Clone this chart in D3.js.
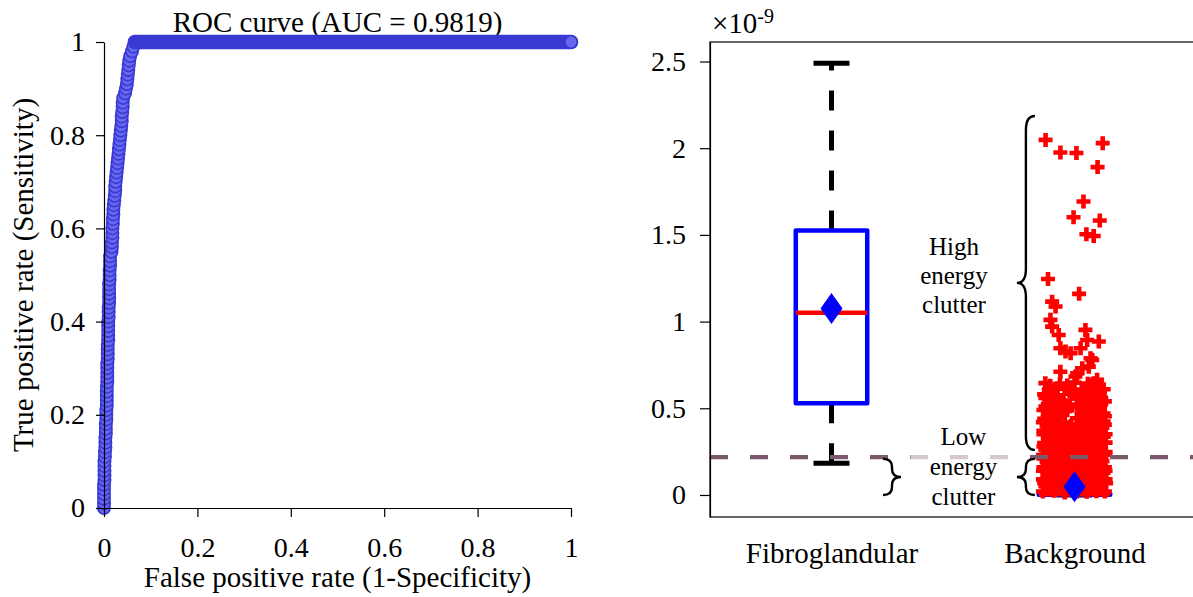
<!DOCTYPE html>
<html>
<head>
<meta charset="utf-8">
<title>ROC curve and clutter energy</title>
<script src="https://d3js.org/d3.v7.min.js"></script>
<style>
    body {
        margin: 0;
        background: #fff;
    }

    svg {
        display: block;
        font-family: "Liberation Serif", "Times New Roman", serif;
    }

    .axis text {
        font-family: "Liberation Serif", "Times New Roman", serif;
        font-size: 28px;
        fill: #000;
    }

    .axis path,
    .axis line {
        stroke: #000;
        stroke-width: 1.2;
    }
</style>
</head>
<body>
<div id="chart"></div>
<script>
    // ROC curve
    const rocTpr = [0, 0.01, 0.02, 0.03, 0.04, 0.05, 0.06, 0.07, 0.08, 0.09,
        0.10, 0.11, 0.12, 0.13, 0.14, 0.15, 0.16, 0.17, 0.18, 0.19,
        0.20, 0.21, 0.22, 0.23, 0.24, 0.25, 0.26, 0.27, 0.28, 0.29,
        0.30, 0.31, 0.32, 0.33, 0.34, 0.35, 0.36, 0.37, 0.38, 0.39,
        0.40, 0.41, 0.42, 0.43, 0.44, 0.45, 0.46, 0.47, 0.48, 0.49,
        0.50, 0.51, 0.52, 0.53, 0.54, 0.55, 0.56, 0.57, 0.58, 0.59,
        0.60, 0.61, 0.62, 0.63, 0.64, 0.65, 0.66, 0.67, 0.68, 0.69,
        0.70, 0.71, 0.72, 0.73, 0.74, 0.75, 0.76, 0.77, 0.78, 0.79,
        0.80, 0.81, 0.82, 0.83, 0.84, 0.85, 0.86, 0.87, 0.88, 0.89,
        0.90, 0.91, 0.92, 0.93, 0.94, 0.95, 0.96, 0.97, 0.98, 0.99,
        1, 1];
    const rocFpr = [0, 0, 0, 0, 0, 0,
        0.001, 0.001, 0.001, 0.001, 0.001,
        0.002, 0.002, 0.003, 0.003, 0.003,
        0.004, 0.004, 0.004, 0.005, 0.005,
        0.005, 0.006, 0.006, 0.006, 0.006,
        0.006, 0.007, 0.007, 0.007, 0.007,
        0.007, 0.008, 0.008, 0.008, 0.008,
        0.009, 0.009, 0.009, 0.009, 0.009,
        0.010, 0.010, 0.010, 0.011, 0.011,
        0.011, 0.011, 0.011, 0.012, 0.012,
        0.012, 0.013, 0.013, 0.013, 0.016,
        0.017, 0.017, 0.018, 0.018, 0.018,
        0.019, 0.019, 0.020, 0.020, 0.021,
        0.022, 0.023, 0.024, 0.024, 0.025,
        0.026, 0.027, 0.028, 0.029, 0.030,
        0.031, 0.032, 0.033, 0.034, 0.035,
        0.036, 0.037, 0.038, 0.038, 0.039,
        0.040, 0.040, 0.041, 0.045, 0.047,
        0.049, 0.050, 0.051, 0.052, 0.053,
        0.054, 0.056, 0.060, 0.063, 0.066,
        1];
    const rocTicks = [0, 0.2, 0.4, 0.6, 0.8, 1];
    const rocTitle = "ROC curve (AUC = 0.9819)";

    // box plot of energy (x 1e-9)
    const groups = ["Fibroglandular", "Background"];
    const boxLow = [0.183, 0.0];
    const boxQ1 = [0.529, 0.002];
    const boxMedian = [1.051, 0.004];
    const boxQ3 = [1.525, 0.009];
    const boxHigh = [2.49, 0.016];
    const boxMean = [1.075, 0.048];
    const energyTicks = [0, 0.5, 1, 1.5, 2, 2.5];
    const clutterThreshold = 0.218;

    // background outliers: [jitter from category centre, energy]
    const bgOutliers = [
        [-0.13, 0.02], [-0.085, 0.025], [-0.04, 0.015], [0.01, 0.02], [0.05, 0.018], [0.09, 0.022], [0.125, 0.02],
        [-0.108, 0.035], [-0.062, 0.038], [-0.018, 0.032], [0.028, 0.036], [0.072, 0.034], [0.11, 0.037],
        [-0.12, 0.05], [-0.07, 0.055], [-0.02, 0.05], [0.03, 0.052], [0.07, 0.048], [0.11, 0.055],
        [-0.125, 0.07], [-0.1, 0.072], [-0.045, 0.068], [0.015, 0.071], [0.055, 0.069], [0.1, 0.073], [0.13, 0.068],
        [-0.13, 0.09], [-0.09, 0.085], [-0.05, 0.092], [0.0, 0.088], [0.04, 0.09], [0.085, 0.086], [0.128, 0.09],
        [-0.108, 0.105], [-0.07, 0.108], [-0.025, 0.102], [0.025, 0.106], [0.07, 0.104], [0.112, 0.108],
        [-0.11, 0.12], [-0.06, 0.125], [-0.015, 0.118], [0.06, 0.122], [0.1, 0.12], [0.12, 0.128],
        [-0.13, 0.14], [-0.09, 0.138], [-0.045, 0.142], [0.005, 0.14], [0.04, 0.137], [0.08, 0.143], [0.128, 0.14],
        [-0.128, 0.16], [-0.08, 0.155], [-0.035, 0.162], [0.02, 0.158], [0.05, 0.165], [0.09, 0.155], [0.125, 0.16],
        [-0.1, 0.175], [-0.055, 0.178], [-0.015, 0.172], [0.03, 0.176], [0.07, 0.174], [0.105, 0.178],
        [-0.115, 0.19], [-0.06, 0.195], [-0.01, 0.188], [0.035, 0.192], [0.075, 0.19], [0.115, 0.195],
        [-0.128, 0.21], [-0.085, 0.212], [-0.03, 0.208], [0.02, 0.211], [0.065, 0.209], [0.11, 0.213],
        [-0.13, 0.23], [-0.09, 0.225], [-0.04, 0.232], [0.005, 0.228], [0.05, 0.23], [0.095, 0.226], [0.127, 0.232],
        [-0.105, 0.245], [-0.055, 0.248], [-0.01, 0.242], [0.045, 0.246], [0.085, 0.244], [0.128, 0.248],
        [-0.12, 0.26], [-0.07, 0.265], [-0.02, 0.258], [0.03, 0.262], [0.07, 0.26], [0.11, 0.266],
        [-0.128, 0.28], [-0.095, 0.282], [-0.045, 0.278], [0.015, 0.281], [0.06, 0.279], [0.1, 0.283],
        [-0.125, 0.3], [-0.085, 0.295], [-0.045, 0.302], [0.01, 0.298], [0.055, 0.3], [0.1, 0.296], [0.128, 0.302],
        [-0.1, 0.315], [-0.065, 0.318], [-0.02, 0.312], [0.03, 0.316], [0.07, 0.314], [0.11, 0.318],
        [-0.11, 0.33], [-0.06, 0.335], [0.0, 0.328], [0.04, 0.332], [0.085, 0.33], [0.12, 0.336],
        [-0.128, 0.35], [-0.08, 0.352], [-0.025, 0.348], [0.025, 0.351], [0.065, 0.349], [0.1, 0.353], [0.128, 0.35],
        [-0.128, 0.37], [-0.09, 0.365], [-0.035, 0.372], [0.02, 0.368], [0.065, 0.37], [0.105, 0.366],
        [-0.105, 0.385], [-0.05, 0.388], [0.0, 0.382], [0.045, 0.386], [0.08, 0.384], [0.115, 0.388],
        [-0.115, 0.4], [-0.07, 0.405], [-0.015, 0.398], [0.045, 0.402], [0.09, 0.4], [0.125, 0.406],
        [-0.13, 0.42], [-0.09, 0.422], [-0.04, 0.418], [0.03, 0.421], [0.075, 0.419], [0.12, 0.423],
        [-0.125, 0.44], [-0.08, 0.435], [0.01, 0.442], [0.06, 0.438], [0.1, 0.44],
        [-0.1, 0.455], [-0.06, 0.458], [0.04, 0.452], [0.085, 0.456], [0.125, 0.454],
        [-0.11, 0.47], [-0.05, 0.475], [0.03, 0.468], [0.08, 0.472], [0.12, 0.47],
        [-0.128, 0.49], [-0.075, 0.492], [-0.03, 0.488], [0.05, 0.491], [0.095, 0.489],
        [-0.12, 0.51], [-0.085, 0.505], [-0.02, 0.512], [0.02, 0.508], [0.07, 0.51], [0.105, 0.506],
        [-0.11, 0.525], [-0.06, 0.528], [0.01, 0.522], [0.065, 0.526], [0.11, 0.524],
        [-0.1, 0.54], [-0.045, 0.545], [0.04, 0.538], [0.09, 0.542], [0.125, 0.54],
        [-0.12, 0.56], [-0.08, 0.562], [0.02, 0.558], [0.07, 0.561], [0.11, 0.559],
        [-0.125, 0.58], [-0.07, 0.575], [-0.01, 0.582], [0.06, 0.578], [0.1, 0.58],
        [-0.09, 0.595], [-0.02, 0.598], [0.045, 0.592], [0.105, 0.596],
        [-0.105, 0.61], [-0.04, 0.615], [0.03, 0.608], [0.085, 0.612], [0.12, 0.61],
        [-0.1, 0.63], [-0.03, 0.632], [0.07, 0.628],
        [-0.12, 0.645], [-0.06, 0.64], [0.0, 0.648], [0.055, 0.642], [0.09, 0.645],
        [-0.099, 0.577], [-0.071, 0.616], [0.079, 0.644], [0.093, 0.664], [0.004, 0.683],
        [-0.058, 0.711], [0.011, 0.702], [0.032, 0.731], [0.059, 0.74], [0.073, 0.779],
        [0.066, 0.789], [-0.016, 0.818], [-0.037, 0.827], [-0.058, 0.846], [0.025, 0.846],
        [0.1, 0.885], [0.052, 0.894], [-0.065, 0.923], [0.045, 0.952], [-0.092, 0.971],
        [-0.099, 1.01], [-0.078, 1.087], [-0.092, 1.115], [0.019, 1.16], [-0.109, 1.246],
        [0.079, 1.494], [0.049, 1.504], [0.104, 1.583], [-0.004, 1.602], [0.037, 1.693],
        [0.095, 1.891], [0.008, 1.972], [-0.058, 1.975], [0.116, 2.029], [-0.119, 2.048]
    ];

    const highLabel = ["High", "energy", "clutter"];
    const lowLabel = ["Low", "energy", "clutter"];

    const W = 1193, H = 597;

    const svg = d3.select("#chart").append("svg")
        .attr("width", W)
        .attr("height", H);
    svg.append("rect").attr("width", W).attr("height", H).attr("fill", "#fff");

    // ---------------- left panel: ROC ----------------
    const x1 = d3.scaleLinear().domain([0, 1]).range([104, 571]);
    const y1 = d3.scaleLinear().domain([0, 1]).range([508, 42]);
    const roc = rocFpr.map((f, i) => ({ fpr: f, tpr: rocTpr[i] }));

    svg.append("text")
        .attr("x", x1(0.5))
        .attr("y", 32)
        .attr("text-anchor", "middle")
        .attr("font-size", 29)
        .text(rocTitle);

    const markerFill = "#6767ef", markerEdge = "#3838d3";

    svg.append("g").selectAll("circle")
        .data(roc.filter(d => d.tpr < 1))
        .join("circle")
        .attr("cx", d => x1(d.fpr))
        .attr("cy", d => y1(d.tpr))
        .attr("r", 6.2)
        .attr("fill", markerFill)
        .attr("stroke", markerEdge)
        .attr("stroke-width", 1.6);

    // plateau at sensitivity 1: markers overlap into a solid band
    svg.append("path")
        .datum(roc.filter(d => d.tpr >= 1))
        .attr("d", d3.line().x(d => x1(d.fpr)).y(d => y1(d.tpr)))
        .attr("fill", "none")
        .attr("stroke", markerEdge)
        .attr("stroke-width", 14.5)
        .attr("stroke-linecap", "round");

    svg.append("circle")
        .datum(roc[roc.length - 1])
        .attr("cx", d => x1(d.fpr))
        .attr("cy", d => y1(d.tpr))
        .attr("r", 6.2)
        .attr("fill", markerFill)
        .attr("stroke", markerEdge)
        .attr("stroke-width", 1.6);

    const fmt = d3.format("~g");

    const gx1 = svg.append("g")
        .attr("class", "axis")
        .attr("transform", `translate(0,${y1(0)})`)
        .call(d3.axisBottom(x1).tickValues(rocTicks).tickFormat(fmt).tickSize(9).tickSizeOuter(0));
    gx1.selectAll("text").attr("dy", null).attr("y", 49);

    svg.append("g")
        .attr("class", "axis")
        .attr("transform", `translate(${x1(0)},0)`)
        .call(d3.axisLeft(y1).tickValues(rocTicks).tickFormat(fmt).tickSize(8).tickSizeOuter(0).tickPadding(11));

    svg.append("text")
        .attr("x", x1(0.5))
        .attr("y", 587)
        .attr("text-anchor", "middle")
        .attr("font-size", 29)
        .text("False positive rate (1-Specificity)");

    svg.append("text")
        .attr("transform", `translate(33,${y1(0.5)}) rotate(-90)`)
        .attr("text-anchor", "middle")
        .attr("font-size", 29)
        .text("True positive rate (Sensitivity)");

    // ---------------- right panel: box plot ----------------
    const x2 = d3.scaleLinear().domain([0.5, 2.5]).range([710, 1196]);
    const y2 = d3.scaleLinear().domain([-0.127, 2.6125]).range([517, 42]);
    const boxHalf = 0.147, capHalf = 0.074;

    const boxes = groups.map((g, i) => ({
        cat: i + 1, low: boxLow[i], q1: boxQ1[i], med: boxMedian[i],
        q3: boxQ3[i], high: boxHigh[i], mean: boxMean[i]
    }));

    const gb = svg.append("g");
    boxes.forEach(b => {
        const cx = x2(b.cat);
        // whiskers, dashed from the box outwards
        [[b.q3, b.high], [b.q1, b.low]].forEach(([from, to]) => {
            gb.append("line")
                .attr("x1", cx).attr("x2", cx)
                .attr("y1", y2(from)).attr("y2", y2(to))
                .attr("stroke", "#000")
                .attr("stroke-width", 5)
                .attr("stroke-dasharray", "20,20");
            gb.append("line")
                .attr("x1", x2(b.cat - capHalf)).attr("x2", x2(b.cat + capHalf))
                .attr("y1", y2(to)).attr("y2", y2(to))
                .attr("stroke", "#000")
                .attr("stroke-width", 5);
        });
        gb.append("rect")
            .attr("x", x2(b.cat - boxHalf))
            .attr("width", x2(b.cat + boxHalf) - x2(b.cat - boxHalf))
            .attr("y", y2(b.q3))
            .attr("height", Math.max(y2(b.q1) - y2(b.q3), 0.5))
            .attr("fill", "none")
            .attr("stroke", "#0000ff")
            .attr("stroke-width", 4.5)
            .attr("stroke-linejoin", "round");
        gb.append("line")
            .attr("x1", x2(b.cat - boxHalf)).attr("x2", x2(b.cat + boxHalf))
            .attr("y1", y2(b.med)).attr("y2", y2(b.med))
            .attr("stroke", "#ff0000")
            .attr("stroke-width", 4.3);
    });

    // background outliers
    svg.append("g").selectAll("path")
        .data(bgOutliers)
        .join("path")
        .attr("transform", d => `translate(${x2(2 + d[0])},${y2(d[1])})`)
        .attr("d", "M-7,0H7M0,-7V7")
        .attr("stroke", "#ff0000")
        .attr("stroke-width", 4.6)
        .attr("fill", "none");

    // means
    svg.append("g").selectAll("path")
        .data(boxes)
        .join("path")
        .attr("transform", d => `translate(${x2(d.cat)},${y2(d.mean)})`)
        .attr("d", "M0,-15.5L11,0L0,15.5L-11,0Z")
        .attr("fill", "#0000ff");

    // threshold between low and high energy clutter
    svg.append("line")
        .attr("x1", x2(0.5)).attr("x2", x2(2.5))
        .attr("y1", y2(clutterThreshold)).attr("y2", y2(clutterThreshold))
        .attr("stroke", "#7d596d")
        .attr("stroke-width", 4.3)
        .attr("stroke-dasharray", "18,22");

    // annotation texts
    const annot = svg.append("g").attr("font-size", 25).attr("text-anchor", "middle");

    annot.append("rect")
        .attr("x", x2(1.543) - 53)
        .attr("y", y2(0.288) - 24)
        .attr("width", 106)
        .attr("height", 92)
        .attr("fill", "#fff")
        .attr("opacity", 0.68);

    annot.append("text")
        .attr("x", x2(1.504))
        .attr("y", y2(1.384))
        .selectAll("tspan")
        .data(highLabel)
        .join("tspan")
        .attr("x", x2(1.504))
        .attr("dy", (d, i) => i === 0 ? 0 : 29)
        .text(d => d);

    annot.append("text")
        .attr("x", x2(1.543))
        .attr("y", y2(0.288))
        .selectAll("tspan")
        .data(lowLabel)
        .join("tspan")
        .attr("x", x2(1.543))
        .attr("dy", (d, i) => i === 0 ? 0 : 30)
        .text(d => d);

    // curly braces
    function brace(xEnd, xTip, yTop, yBot, r) {
        const xs = (xEnd + xTip) / 2, ym = (yTop + yBot) / 2;
        return `M${xEnd},${yTop} Q${xs},${yTop} ${xs},${yTop + r}` +
            ` L${xs},${ym - r} Q${xs},${ym} ${xTip},${ym}` +
            ` Q${xs},${ym} ${xs},${ym + r}` +
            ` L${xs},${yBot - r} Q${xs},${yBot} ${xEnd},${yBot}`;
    }
    const braces = [
        { end: 2 - 0.163, tip: 2 - 0.237, top: 2.186, bot: 0.26, r: 14 },
        { end: 2 - 0.163, tip: 2 - 0.237, top: 0.208, bot: 0.0, r: 8 },
        { end: 1 + 0.212, tip: 1 + 0.286, top: 0.208, bot: 0.0, r: 8 }
    ];
    svg.append("g").selectAll("path")
        .data(braces)
        .join("path")
        .attr("d", d => brace(x2(d.end), x2(d.tip), y2(d.top), y2(d.bot), d.r))
        .attr("fill", "none")
        .attr("stroke", "#000")
        .attr("stroke-width", 2.4);

    // frame and axes
    svg.append("rect")
        .attr("x", x2(0.5))
        .attr("y", y2(2.6125))
        .attr("width", x2(2.5) - x2(0.5))
        .attr("height", y2(-0.127) - y2(2.6125))
        .attr("fill", "none")
        .attr("stroke", "#000")
        .attr("stroke-width", 1.2);

    svg.append("g")
        .attr("class", "axis")
        .attr("transform", `translate(${x2(0.5)},0)`)
        .call(d3.axisLeft(y2).tickValues(energyTicks).tickFormat(fmt).tickSize(10).tickSizeOuter(0).tickPadding(14));

    const gx2 = svg.append("g")
        .attr("class", "axis")
        .attr("transform", `translate(0,${y2(-0.127)})`)
        .call(d3.axisBottom(x2).tickValues([1, 2]).tickFormat((d, i) => groups[i]).tickSize(0));
    gx2.select(".domain").remove();
    gx2.selectAll("text").attr("dy", null).attr("y", 46).style("font-size", "29px");

    const exp = svg.append("text")
        .attr("x", x2(0.5) + 2)
        .attr("y", 33)
        .attr("font-size", 29);
    exp.append("tspan").text("\u00d710");
    exp.append("tspan").attr("font-size", 20).attr("dy", -10).text("-9");
</script>
</body>
</html>
